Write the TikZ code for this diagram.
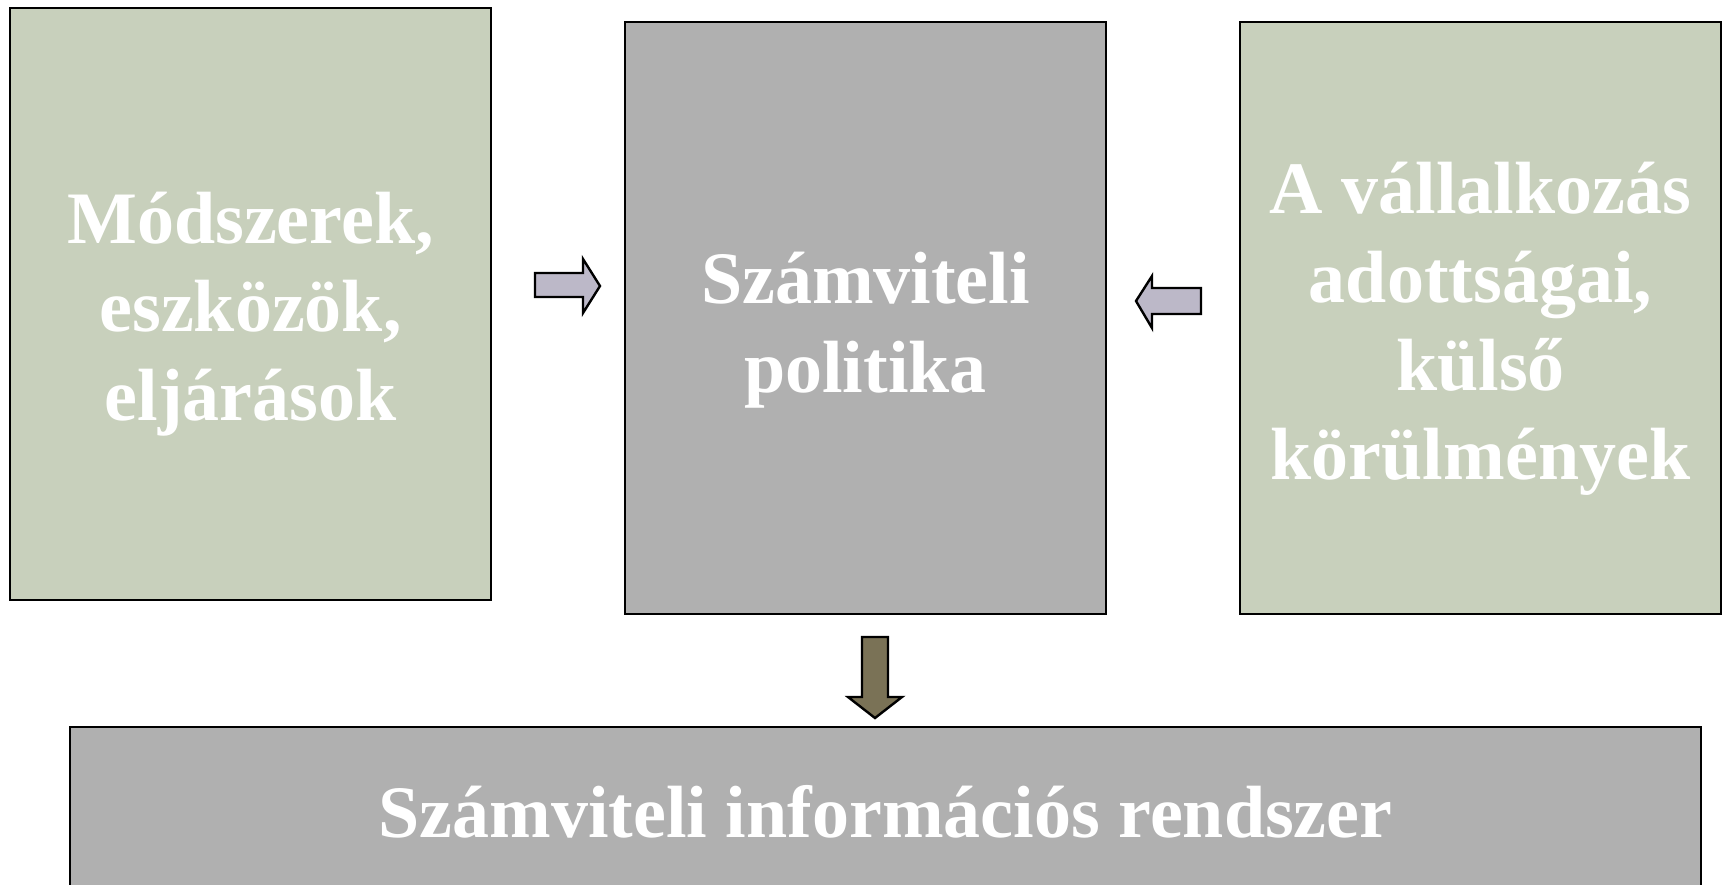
\documentclass[tikz,border=0pt]{standalone}
\usepackage{fontspec}
\setmainfont{Liberation Serif}
\definecolor{boxgreen}{HTML}{C8D0BC}
\definecolor{boxgray}{HTML}{B0B0B0}
\definecolor{arrowlilac}{HTML}{BCB8C8}
\definecolor{arrowbrown}{HTML}{7A7256}
\definecolor{txtwhite}{HTML}{FFFFFF}
\tikzset{
  panel/.style={draw=black, line width=2.6pt},
  lbl/.style={text=txtwhite, font=\fontsize{74}{88.5}\selectfont\bfseries, align=center, inner sep=0pt},
  blockarrow/.style={draw=black, line width=2.4pt, line join=miter},
}
\begin{document}
\begin{tikzpicture}[x=1pt,y=-1pt]
\useasboundingbox (0,0) rectangle (1725,884);
\clip (0,0) rectangle (1725,884);
% boxes
\draw[panel, fill=boxgreen] (10,8) rectangle (491,600);
\draw[panel, fill=boxgray] (625,22) rectangle (1106,614);
\draw[panel, fill=boxgreen] (1240,22) rectangle (1721,614);
\draw[panel, fill=boxgray] (70,727) rectangle (1701,920);
% labels
\node[lbl] (left) at (250.5,314) {Módszerek,\\eszközök,\\eljárások};
\node[lbl] (mid) at (865.5,330) {Számviteli\\politika};
\node[lbl] (right) at (1480.5,329) {A vállalkozás\\adottságai,\\külső\\körülmények};
\node[lbl] (bottom) at (885.5,812) {Számviteli információs rendszer};
% arrows
\draw[blockarrow, fill=arrowlilac] (535,273) -- (583,273) -- (583,259) -- (600,286) -- (583,313) -- (583,297) -- (535,297) -- cycle;
\draw[blockarrow, fill=arrowlilac] (1201,288) -- (1152,288) -- (1152,276) -- (1136,301) -- (1152,328) -- (1152,314) -- (1201,314) -- cycle;
\draw[blockarrow, fill=arrowbrown] (862,637) -- (888,637) -- (888,697) -- (902,697) -- (875,718) -- (848,697) -- (862,697) -- cycle;
\end{tikzpicture}
\end{document}
